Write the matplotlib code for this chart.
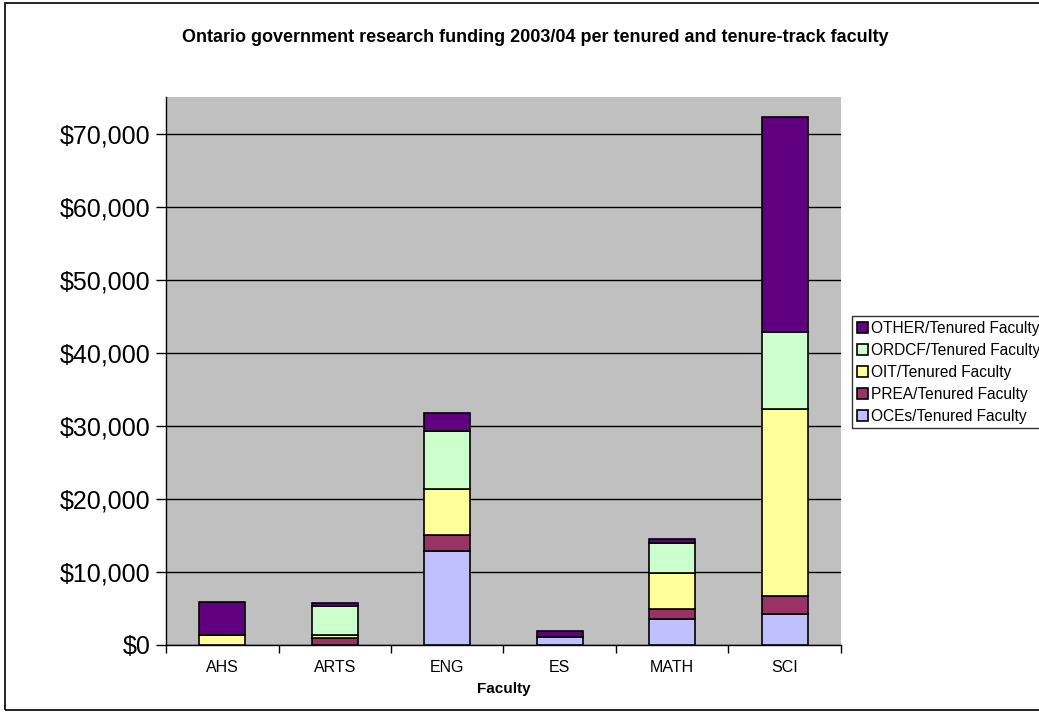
import matplotlib
matplotlib.use("Agg")
import matplotlib.pyplot as plt
import numpy as np
from matplotlib.patches import Rectangle
from matplotlib.ticker import FuncFormatter, FixedLocator

plt.rcParams['font.family'] = ['Liberation Sans', 'DejaVu Sans']

# Faculties and funding per tenured/tenure-track faculty
faculties = ['AHS', 'ARTS', 'ENG', 'ES', 'MATH', 'SCI']
oces = [0, 0, 12900, 1150, 3600, 4200]
prea = [0, 900, 2130, 0, 1330, 2500]
oit = [1400, 500, 6370, 0, 4880, 25590]
ordcf = [0, 3980, 7850, 0, 4190, 10550]
other = [4530, 370, 2550, 770, 560, 29460]

series = [
    ('OCEs/Tenured Faculty', oces, '#C0C0FF'),
    ('PREA/Tenured Faculty', prea, '#993366'),
    ('OIT/Tenured Faculty', oit, '#FFFF99'),
    ('ORDCF/Tenured Faculty', ordcf, '#CCFFCC'),
    ('OTHER/Tenured Faculty', other, '#600080'),
]

fig = plt.figure(figsize=(10.39, 7.13), dpi=100)
ax = fig.add_axes([166/1039, 68/713, 675/1039, 548/713])
ax.set_facecolor('#C0C0C0')

x = np.arange(len(faculties))
bottom = np.zeros(len(faculties))
handles = []
for label, vals, color in series:
    vals = np.array(vals, dtype=float)
    b = ax.bar(x, vals, width=0.405, bottom=bottom, color=color,
               edgecolor='black', linewidth=1.2, label=label, zorder=3)
    handles.append(b)
    bottom += vals

ax.set_xlim(-0.5, len(faculties) - 0.5)
ax.set_ylim(0, 75000)
ax.set_yticks(np.arange(0, 70001, 10000))
ax.yaxis.set_major_formatter(FuncFormatter(lambda v, p: '${:,.0f}'.format(v)))
ax.yaxis.grid(True, color='black', linewidth=1, zorder=1)
ax.tick_params(axis='y', labelsize=18, length=7, width=1, direction='out', pad=4)

ax.set_xticks(x)
ax.set_xticklabels(faculties)
ax.xaxis.set_minor_locator(FixedLocator(np.arange(-0.5, len(faculties), 1.0)))
ax.tick_params(axis='x', which='major', length=0, labelsize=11.5, pad=11)
ax.tick_params(axis='x', which='minor', length=6, width=1, direction='out')
ax.set_xlabel('Faculty', fontsize=11, fontweight='bold', labelpad=5)

for side in ['top', 'right']:
    ax.spines[side].set_visible(False)
for side in ['left', 'bottom']:
    ax.spines[side].set_color('black')
    ax.spines[side].set_linewidth(1)

fig.text(0.515, 0.948, 'Ontario government research funding 2003/04 per tenured and tenure-track faculty',
         ha='center', va='center', fontsize=13, fontweight='bold')

# legend runs off the right edge, as in the original
leg = fig.legend(handles[::-1], [s[0] for s in series][::-1],
                 loc='upper left', bbox_to_anchor=(852/1039, 397/713),
                 fontsize=11.2, frameon=True, fancybox=False, shadow=False,
                 handlelength=0.7, handleheight=0.7, handletextpad=0.2,
                 labelspacing=0.45, borderpad=0.3, borderaxespad=0)
leg.get_frame().set_edgecolor('black')
leg.get_frame().set_linewidth(1)

# chart border
fig.patches.append(Rectangle((5/1039, 3/713), 1.1, 707/713, transform=fig.transFigure,
                             fill=False, edgecolor='black', linewidth=1.2))

fig.savefig('out.png', dpi=100)
